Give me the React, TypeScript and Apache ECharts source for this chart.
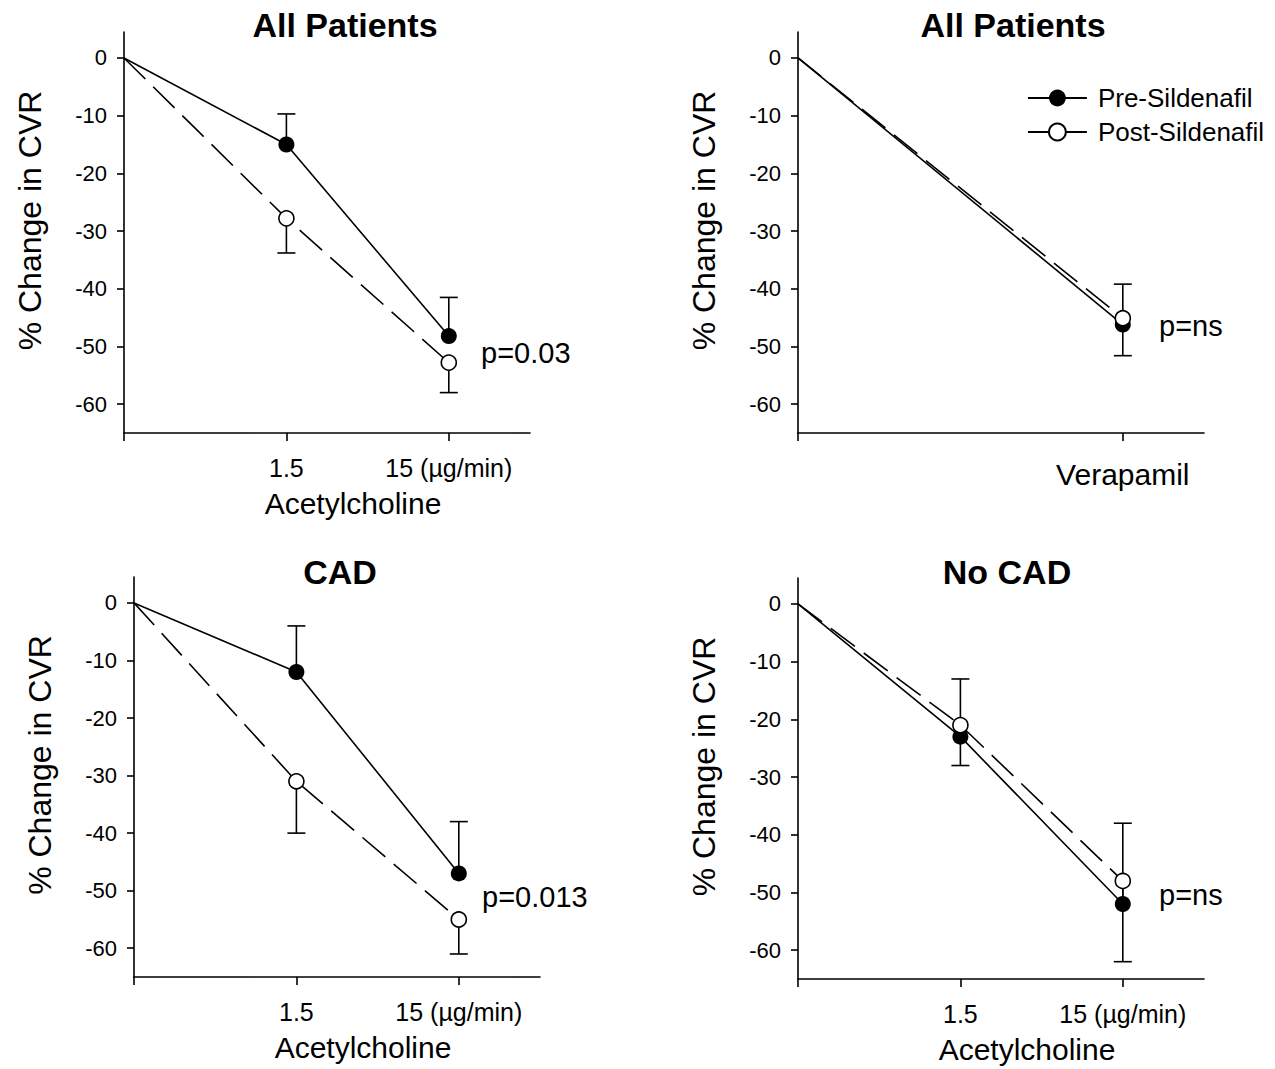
import React, { useEffect, useRef } from "react";
import * as echarts from "echarts";

// ---------- data ----------
// x positions on the dose axis: 0 = baseline, 1 = 1.5 µg/min, 2 = 15 µg/min
const achX = [0, 1, 2];
const achTickLabels: Record<number, string> = { 1: "1.5", 2: "15 (µg/min)" };
const verX = [0, 2];
const verTickLabels: Record<number, string> = { 2: "Verapamil" };
const yTicks = [0, -10, -20, -30, -40, -50, -60];

const seriesNames = ["Pre-Sildenafil", "Post-Sildenafil"];

// Panel A: All Patients, acetylcholine
const allAchPre = [0, -15, -48.2];
const allAchPreCap = [null, -9.7, -41.5];
const allAchPost = [0, -27.8, -52.8];
const allAchPostCap = [null, -33.8, -58];

// Panel B: All Patients, verapamil
const allVerPre = [0, -46.2];
const allVerPreCap = [null, -39.2];
const allVerPost = [0, -45.1];
const allVerPostCap = [null, -51.6];

// Panel C: CAD
const cadPre = [0, -12, -47];
const cadPreCap = [null, -4, -38];
const cadPost = [0, -31, -55];
const cadPostCap = [null, -40, -61];

// Panel D: No CAD
const noCadPre = [0, -23, -52];
const noCadPreCap = [null, -13, -38];
const noCadPost = [0, -21, -48];
const noCadPostCap = [null, -28, -62];

const titles = ["All Patients", "All Patients", "CAD", "No CAD"];
const pValues = ["p=0.03", "p=ns", "p=0.013", "p=ns"];
const yAxisName = "% Change in CVR";
const xAxisName = "Acetylcholine";

// ---------- layout ----------
const FONT = "'Liberation Sans', Arial, Helvetica, sans-serif";

const panelDefs = [
  {
    grid: { left: 124, top: 32, width: 406, height: 401 },
    xs: achX, tickVals: [0, 1, 2], labelVals: [1, 2], labels: achTickLabels,
    labelSize: 25, labelMargin: 22, xName: xAxisName,
    pre: allAchPre, preCap: allAchPreCap, post: allAchPost, postCap: allAchPostCap,
  },
  {
    grid: { left: 798, top: 32, width: 406, height: 401 },
    xs: verX, tickVals: [0, 2], labelVals: [2], labels: verTickLabels,
    labelSize: 30, labelMargin: 26, xName: "",
    pre: allVerPre, preCap: allVerPreCap, post: allVerPost, postCap: allVerPostCap,
  },
  {
    grid: { left: 134, top: 577, width: 406, height: 400 },
    xs: achX, tickVals: [0, 1, 2], labelVals: [1, 2], labels: achTickLabels,
    labelSize: 25, labelMargin: 22, xName: xAxisName,
    pre: cadPre, preCap: cadPreCap, post: cadPost, postCap: cadPostCap,
  },
  {
    grid: { left: 798, top: 578, width: 406, height: 401 },
    xs: achX, tickVals: [0, 1, 2], labelVals: [1, 2], labels: achTickLabels,
    labelSize: 25, labelMargin: 22, xName: xAxisName,
    pre: noCadPre, preCap: noCadPreCap, post: noCadPost, postCap: noCadPostCap,
  },
];

const titlePos = [
  [345, 25],
  [1013, 25],
  [340, 572],
  [1007, 572],
];
const pPos = [
  [481, 353],
  [1159, 326],
  [482, 897],
  [1159, 895],
];

function errorRender(params: any, api: any) {
  const x = api.value(0);
  const y0 = api.value(1);
  const y1 = api.value(2);
  const p0 = api.coord([x, y0]);
  const p1 = api.coord([x, y1]);
  const st = { stroke: "#000", lineWidth: 1.6 };
  return {
    type: "group",
    children: [
      { type: "line", shape: { x1: p0[0], y1: p0[1], x2: p1[0], y2: p1[1] }, style: st },
      { type: "line", shape: { x1: p1[0] - 9, y1: p1[1], x2: p1[0] + 9, y2: p1[1] }, style: st },
    ],
  };
}

function buildOption() {
  const grids: any[] = [];
  const xAxes: any[] = [];
  const yAxes: any[] = [];
  const series: any[] = [];
  const graphics: any[] = [];

  panelDefs.forEach((p, i) => {
    grids.push({ ...p.grid, containLabel: false });
    xAxes.push({
      type: "value",
      gridIndex: i,
      min: 0,
      max: 2.5,
      splitLine: { show: false },
      axisLine: { show: true, onZero: false, lineStyle: { color: "#000", width: 1.6 } },
      axisTick: { show: true, customValues: p.tickVals, length: 8, lineStyle: { color: "#000", width: 1.6 } },
      axisLabel: {
        show: true,
        customValues: p.labelVals,
        formatter: (v: number) => p.labels[Math.round(v)] || "",
        fontFamily: FONT,
        fontSize: p.labelSize,
        color: "#000",
        margin: p.labelMargin,
      },
      name: p.xName,
      nameLocation: "middle",
      nameGap: 55,
      nameTextStyle: { fontFamily: FONT, fontSize: 30, color: "#000", padding: [0, 0, 0, 52] },
    });
    yAxes.push({
      type: "value",
      gridIndex: i,
      min: -65,
      max: 4.5,
      splitLine: { show: false },
      axisLine: { show: true, onZero: false, lineStyle: { color: "#000", width: 1.6 } },
      axisTick: { show: true, customValues: yTicks, length: 7, lineStyle: { color: "#000", width: 1.6 } },
      axisLabel: {
        show: true,
        customValues: yTicks,
        fontFamily: FONT,
        fontSize: 22,
        color: "#000",
        margin: 17,
      },
      name: yAxisName,
      nameLocation: "middle",
      nameGap: 78,
      nameTextStyle: { fontFamily: FONT, fontSize: 32, color: "#000", padding: [0, 0, 0, 24] },
    });

    const preErr = p.preCap
      .map((c, k) => (c === null ? null : [p.xs[k], p.pre[k], c]))
      .filter((d) => d !== null);
    const postErr = p.postCap
      .map((c, k) => (c === null ? null : [p.xs[k], p.post[k], c]))
      .filter((d) => d !== null);

    series.push({
      type: "custom",
      name: "Pre SE " + i,
      xAxisIndex: i,
      yAxisIndex: i,
      renderItem: errorRender,
      data: preErr,
      encode: { x: 0, y: [1, 2] },
      z: 1,
      silent: true,
    });
    series.push({
      type: "custom",
      name: "Post SE " + i,
      xAxisIndex: i,
      yAxisIndex: i,
      renderItem: errorRender,
      data: postErr,
      encode: { x: 0, y: [1, 2] },
      z: 1,
      silent: true,
    });

    const pts = (vals: number[]) =>
      vals.map((v, k) => (k === 0 ? { value: [p.xs[k], v], symbol: "none" } : { value: [p.xs[k], v] }));

    series.push({
      type: "line",
      name: seriesNames[0],
      xAxisIndex: i,
      yAxisIndex: i,
      data: pts(p.pre),
      symbol: "circle",
      symbolSize: 16,
      showSymbol: true,
      lineStyle: { color: "#000", width: 1.6, type: "solid" },
      itemStyle: { color: "#000", borderColor: "#000", borderWidth: 0 },
      z: 3,
    });
    series.push({
      type: "line",
      name: seriesNames[1],
      xAxisIndex: i,
      yAxisIndex: i,
      data: pts(p.post),
      symbol: "circle",
      symbolSize: 15,
      showSymbol: true,
      lineStyle: { color: "#000", width: 1.6, type: [30, 11] },
      itemStyle: { color: "#fff", borderColor: "#000", borderWidth: 1.6 },
      z: 4,
    });

    graphics.push({
      type: "text",
      x: titlePos[i][0],
      y: titlePos[i][1],
      style: {
        text: titles[i],
        fontFamily: FONT,
        fontSize: 34,
        fontWeight: "bold",
        fill: "#000",
        align: "center",
        verticalAlign: "middle",
      },
    });
    graphics.push({
      type: "text",
      x: pPos[i][0],
      y: pPos[i][1],
      style: {
        text: pValues[i],
        fontFamily: FONT,
        fontSize: 29,
        fill: "#000",
        align: "left",
        verticalAlign: "middle",
      },
    });
  });

  return {
    animation: false,
    backgroundColor: "#fff",
    grid: grids,
    xAxis: xAxes,
    yAxis: yAxes,
    series,
    graphic: graphics,
    legend: {
      data: seriesNames,
      orient: "vertical",
      left: 1022,
      top: 80,
      itemWidth: 59,
      itemHeight: 21,
      itemGap: 8,
      lineStyle: { type: "solid", width: 1.8, color: "#000" },
      textStyle: { fontFamily: FONT, fontSize: 26, lineHeight: 26, color: "#000", padding: [0, 0, 0, 6] },
    },
  };
}

export default function App() {
  const ref = useRef<HTMLDivElement>(null);
  useEffect(() => {
    document.body.style.margin = "0";
    if (!ref.current) return;
    const chart = echarts.init(ref.current, null, { renderer: "svg" });
    chart.setOption(buildOption() as any);
    return () => chart.dispose();
  }, []);
  return <div ref={ref} style={{ width: 1275, height: 1069, background: "#fff" }} />;
}
